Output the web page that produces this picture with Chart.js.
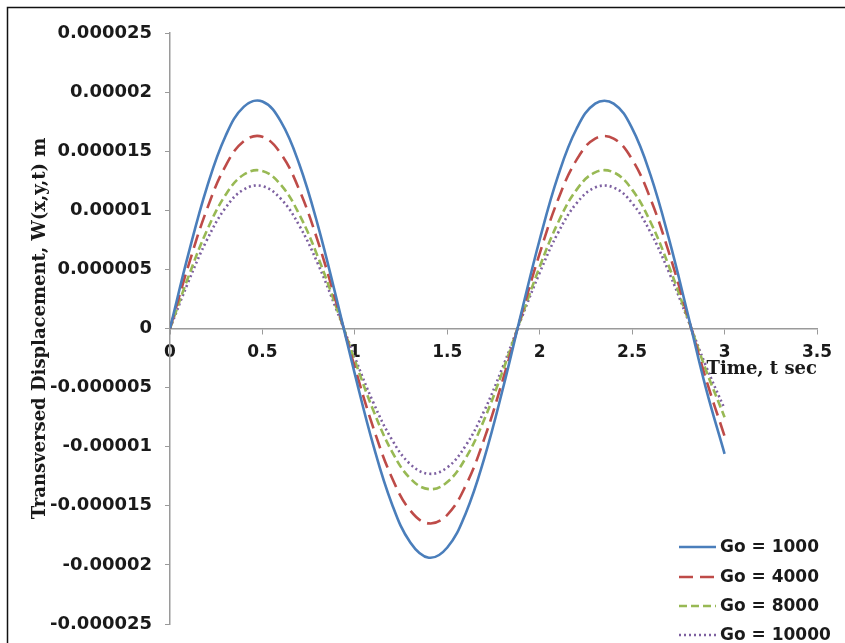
<!DOCTYPE html>
<html>
<head>
<meta charset="utf-8">
<script src="https://cdn.jsdelivr.net/npm/chart.js@4/dist/chart.umd.min.js"></script>
<style>
  html, body { margin: 0; padding: 0; background: #fff; }
  #wrap { width: 845px; height: 643px; }
</style>
</head>
<body>
<div id="wrap"><canvas id="dispChart" width="845" height="643"></canvas></div>
<script>
// Time values (s)
const times = [0, 0.1, 0.2, 0.3, 0.4, 0.5, 0.6, 0.7, 0.8, 0.9, 1.0,
  1.1, 1.2, 1.3, 1.4, 1.5, 1.6, 1.7, 1.8, 1.9, 2.0,
  2.1, 2.2, 2.3, 2.4, 2.5, 2.6, 2.7, 2.8, 2.9, 3.0];

// Transversed displacement W (m)
const go1000 = [0, 0.633e-5, 1.196e-5, 1.627e-5, 1.877e-5, 1.920e-5, 1.750e-5, 1.387e-5, 0.873e-5, 0.257e-5, -0.386e-5,
  -0.989e-5, -1.482e-5, -1.810e-5, -1.939e-5, -1.853e-5, -1.562e-5, -1.098e-5, -0.514e-5, 0.129e-5, 0.753e-5,
  1.295e-5, 1.692e-5, 1.903e-5, 1.903e-5, 1.693e-5, 1.295e-5, 0.754e-5, 0.129e-5, -0.511e-5, -1.06e-5];
const go4000 = [0, 0.535e-5, 1.010e-5, 1.374e-5, 1.586e-5, 1.622e-5, 1.478e-5, 1.171e-5, 0.737e-5, 0.217e-5, -0.329e-5,
  -0.841e-5, -1.260e-5, -1.540e-5, -1.649e-5, -1.576e-5, -1.328e-5, -0.934e-5, -0.437e-5, 0.109e-5, 0.636e-5,
  1.094e-5, 1.429e-5, 1.607e-5, 1.607e-5, 1.430e-5, 1.094e-5, 0.637e-5, 0.109e-5, -0.431e-5, -0.91e-5];
const go8000 = [0, 0.440e-5, 0.830e-5, 1.129e-5, 1.303e-5, 1.333e-5, 1.215e-5, 0.963e-5, 0.606e-5, 0.179e-5, -0.271e-5,
  -0.693e-5, -1.039e-5, -1.269e-5, -1.359e-5, -1.299e-5, -1.095e-5, -0.770e-5, -0.360e-5, 0.090e-5, 0.523e-5,
  0.899e-5, 1.175e-5, 1.321e-5, 1.321e-5, 1.175e-5, 0.899e-5, 0.523e-5, 0.090e-5, -0.355e-5, -0.75e-5];
const go10000 = [0, 0.397e-5, 0.750e-5, 1.020e-5, 1.177e-5, 1.204e-5, 1.097e-5, 0.869e-5, 0.547e-5, 0.161e-5, -0.245e-5,
  -0.627e-5, -0.939e-5, -1.148e-5, -1.229e-5, -1.175e-5, -0.990e-5, -0.696e-5, -0.326e-5, 0.081e-5, 0.472e-5,
  0.812e-5, 1.061e-5, 1.193e-5, 1.193e-5, 1.061e-5, 0.812e-5, 0.473e-5, 0.081e-5, -0.320e-5, -0.68e-5];

const seriesNames = ['Go = 1000', 'Go = 4000', 'Go = 8000', 'Go = 10000'];
const seriesValues = [go1000, go4000, go8000, go10000];

// axis ranges/ticks
const xTicks = [0, 0.5, 1, 1.5, 2, 2.5, 3, 3.5];
const yMin = -0.000025, yMax = 0.000025, yStep = 0.000005;

const lineColors = ['#4a7ebb', '#be4b48', '#98b954', '#7d60a0'];
const lineDashes = [[], [14, 7], [8, 4], [2, 3]];

const datasets = seriesValues.map((vals, i) => ({
  label: seriesNames[i],
  data: times.map((t, j) => ({ x: t, y: vals[j] })),
  borderColor: lineColors[i],
  borderWidth: 2.6,
  borderDash: lineDashes[i],
  pointRadius: 0,
  fill: false,
  tension: 0.4
}));

// frame around the picture + legend in the lower right corner
const framePlugin = {
  id: 'frame',
  afterDraw(chart) {
    const c = chart.ctx;
    c.save();
    c.strokeStyle = '#111';
    c.lineWidth = 1.5;
    c.beginPath();
    c.moveTo(7.5, 643);
    c.lineTo(7.5, 7.5);
    c.lineTo(845, 7.5);
    c.stroke();

    // legend
    const rowY = [547, 577, 606, 635];
    c.font = 'bold 17px "DejaVu Sans", sans-serif';
    c.textBaseline = 'middle';
    c.textAlign = 'left';
    chart.data.datasets.forEach((ds, i) => {
      c.strokeStyle = ds.borderColor;
      c.lineWidth = 2.6;
      c.setLineDash(ds.borderDash);
      c.beginPath();
      c.moveTo(679, rowY[i]);
      c.lineTo(716, rowY[i]);
      c.stroke();
      c.setLineDash([]);
      c.fillStyle = '#1a1a1a';
      c.fillText(ds.label, 720, rowY[i] + 1);
    });
    c.restore();
  }
};

function fmtY(v) {
  let s = Number(v).toFixed(6);
  s = s.replace(/0+$/, '').replace(/\.$/, '');
  if (s === '-0') s = '0';
  return s;
}

const ctx = document.getElementById('dispChart').getContext('2d');
new Chart(ctx, {
  type: 'line',
  data: { datasets: datasets },
  options: {
    responsive: false,
    animation: false,
    layout: { padding: { left: 24, top: 33, right: 28, bottom: 19 } },
    plugins: {
      legend: { display: false },
      tooltip: { enabled: false }
    },
    scales: {
      x: {
        type: 'linear',
        position: { y: 0 },
        min: 0,
        max: 3.5,
        afterBuildTicks(scale) { scale.ticks = xTicks.map(v => ({ value: v })); },
        ticks: {
          color: '#1a1a1a',
          font: { family: '"DejaVu Sans", sans-serif', size: 17, weight: 'bold' },
          maxRotation: 0,
          padding: 9,
          callback: v => String(v)
        },
        grid: { drawOnChartArea: false, color: '#9a9a9a', tickLength: 5 },
        border: { color: '#9a9a9a', width: 1.5 },
        title: {
          display: true,
          text: 'Time, t sec',
          align: 'end',
          color: '#1a1a1a',
          font: { family: '"DejaVu Serif", serif', size: 18, weight: 'bold' },
          padding: { top: -13, bottom: 0 }
        }
      },
      y: {
        type: 'linear',
        min: yMin,
        max: yMax,
        ticks: {
          stepSize: yStep,
          color: '#1a1a1a',
          font: { family: '"DejaVu Sans", sans-serif', size: 18, weight: 'bold' },
          padding: 13,
          callback: v => fmtY(v)
        },
        afterFit(scale) {
          scale.width = 146;
          scale.paddingTop = 0;
          scale.paddingBottom = 0;
        },
        grid: { drawOnChartArea: false, color: '#9a9a9a', tickLength: 5 },
        border: { color: '#9a9a9a', width: 1.5 },
        title: {
          display: true,
          text: 'Transversed Displacement, W(x,y,t) m',
          color: '#1a1a1a',
          font: { family: '"DejaVu Serif", serif', size: 18, weight: 'bold' },
          padding: { top: 6, bottom: 0 }
        }
      }
    }
  },
  plugins: [framePlugin]
});
</script>
</body>
</html>
